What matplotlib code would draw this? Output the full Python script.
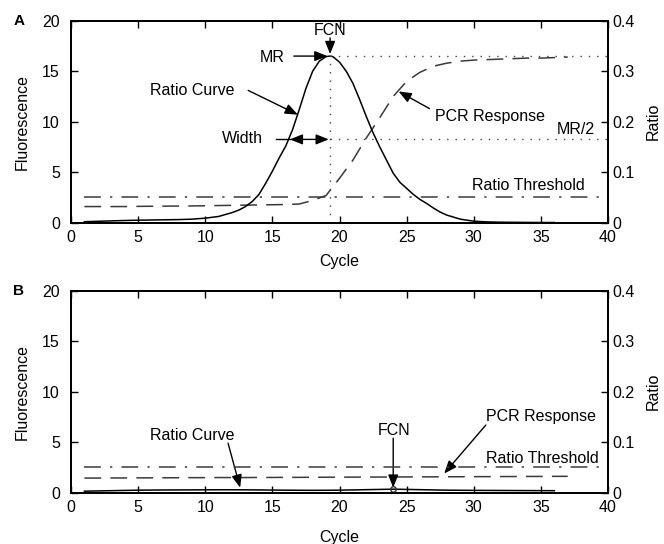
import matplotlib
matplotlib.use("Agg")
import matplotlib.pyplot as plt

plt.rcParams['font.family'] = ['Liberation Sans', 'DejaVu Sans']
plt.rcParams['font.size'] = 11.5

# ---------------- data ----------------
# Panel A: ratio curve (ratio units)
cycles_ratio_a = [1, 2, 3, 4, 5, 6, 7, 8, 9, 10, 11, 12, 12.5, 13, 13.5, 14, 14.5, 15, 15.5,
                  16, 16.5, 17, 17.5, 18, 18.5, 19, 19.3, 19.5, 20, 20.5, 21, 21.5, 22,
                  22.5, 23, 23.5, 24, 24.5, 25, 25.5, 26, 26.5, 27, 27.5, 28, 29, 30, 31,
                  32, 33, 34, 35, 36]
ratio_a = [0.002, 0.0028, 0.0036, 0.0044, 0.005, 0.0054, 0.0058, 0.0062, 0.007, 0.009,
           0.0124, 0.020, 0.025, 0.032, 0.042, 0.056, 0.078, 0.102, 0.128,
           0.152, 0.184, 0.224, 0.266, 0.300, 0.320, 0.329, 0.330, 0.329, 0.318, 0.300,
           0.276, 0.244, 0.210, 0.178, 0.150, 0.124, 0.098, 0.080, 0.068, 0.056,
           0.046, 0.038, 0.029, 0.021, 0.015, 0.007, 0.003, 0.0016, 0.0010, 0.0008,
           0.0006, 0.0004, 0.0004]
cycles_pcr = list(range(1, 38))
pcr_a = [1.6, 1.6, 1.6, 1.6, 1.62, 1.63, 1.64, 1.65, 1.66, 1.68, 1.7, 1.72, 1.74, 1.76,
         1.78, 1.8, 1.85, 2.2, 2.7, 4.4, 6.2, 8.4, 10.4, 12.5, 14.0, 14.9, 15.5, 15.8,
         16.0, 16.1, 16.15, 16.2, 16.25, 16.3, 16.3, 16.35, 16.4]
fcn_a = 19.3
mr_a = 0.33

# Panel B
cycles_ratio_b = list(range(1, 37))
ratio_b = [0.003, 0.0035, 0.004, 0.0045, 0.005, 0.0052, 0.0054, 0.0055, 0.0056, 0.0057,
           0.0058, 0.0058, 0.0057, 0.0055, 0.0052, 0.005, 0.0048, 0.0047, 0.0048, 0.005,
           0.0055, 0.006, 0.0065, 0.007, 0.0065, 0.006, 0.0055, 0.005, 0.0048, 0.0046,
           0.0045, 0.0044, 0.0043, 0.0042, 0.0041, 0.004]
pcr_b = [1.45, 1.45, 1.46, 1.46, 1.47, 1.47, 1.48, 1.48, 1.49, 1.49, 1.5, 1.5, 1.5, 1.51,
         1.51, 1.52, 1.52, 1.53, 1.53, 1.54, 1.54, 1.55, 1.55, 1.56, 1.56, 1.57, 1.57,
         1.58, 1.58, 1.59, 1.59, 1.6, 1.6, 1.61, 1.61, 1.62, 1.62]
fcn_b = 24

ratio_threshold = 0.05
threshold_start = 1

x_ticks = [0, 5, 10, 15, 20, 25, 30, 35, 40]
fl_ticks = [0, 5, 10, 15, 20]
ratio_ticks = [0, 0.1, 0.2, 0.3, 0.4]
ratio_ticklabels = ['0', '0.1', '0.2', '0.3', '0.4']

# ---------------- figure ----------------
fig = plt.figure(figsize=(6.64, 5.44), dpi=100)

DASH_COLOR = '#3a3a3a'
DASHES = (11, 6)
DASHDOT = (0, (11, 6, 1.5, 6))
ARROW = dict(arrowstyle='-|>,head_length=0.55,head_width=0.22', mutation_scale=14,
             lw=1.0, color='k', shrinkA=0, shrinkB=0)


def setup(ax, ax2, cycle_pad):
    ax.set_xlim(0, 40)
    ax.set_ylim(0, 20)
    ax2.set_ylim(0, 0.4)
    ax.set_xticks(x_ticks)
    ax.set_yticks(fl_ticks)
    ax2.set_yticks(ratio_ticks)
    ax2.set_yticklabels(ratio_ticklabels)
    ax.tick_params(axis='x', direction='in', top=True, length=5, width=1, pad=5,
                   labelsize=11.5)
    ax.tick_params(axis='y', direction='in', length=5, width=1, pad=8, labelsize=11.5)
    ax2.tick_params(axis='y', direction='in', length=5, width=1, pad=3, labelsize=11.5)
    for a in (ax, ax2):
        for s in a.spines.values():
            s.set_linewidth(1.3)
    ax.set_xlabel('Cycle', labelpad=cycle_pad)
    ax.set_ylabel('Fluorescence', labelpad=9)
    ax2.set_ylabel('Ratio', labelpad=8)


# ---- Panel A ----
axA = fig.add_axes([0.1069, 0.5906, 0.8088, 0.3713])
axA2 = axA.twinx()
setup(axA, axA2, 7)
axA2.plot(cycles_ratio_a, ratio_a, color='k', lw=1.1)
axA.plot(cycles_pcr, pcr_a, color=DASH_COLOR, lw=1.1, dashes=DASHES)
axA2.hlines(ratio_threshold, threshold_start, 40, color=DASH_COLOR, lw=1.1,
            linestyles=[DASHDOT])
axA2.vlines(fcn_a, 0, mr_a, color='#444444', lw=1.0, linestyles=[(0, (1, 5))])
axA2.hlines([mr_a, mr_a / 2], fcn_a, 40, color='#444444', lw=1.0,
            linestyles=[(0, (1, 5))])

axA.text(fcn_a, 19.0, 'FCN', ha='center', va='center')
axA.annotate('', xy=(fcn_a, 16.7), xytext=(fcn_a, 18.3), arrowprops=ARROW)
axA.text(15.0, 16.4, 'MR', ha='center', va='center')
axA.annotate('', xy=(19.1, 16.5), xytext=(16.6, 16.5), arrowprops=ARROW)
axA.text(9.0, 13.1, 'Ratio Curve', ha='center', va='center')
axA.annotate('', xy=(16.9, 10.7), xytext=(13.2, 13.1), arrowprops=ARROW)
axA.text(12.8, 8.3, 'Width', ha='center', va='center')
axA.plot([15.3, 16.3], [8.25, 8.25], color='k', lw=1.0)
axA.annotate('', xy=(19.2, 8.25), xytext=(16.3, 8.25),
             arrowprops=dict(ARROW, arrowstyle='<|-|>,head_length=0.55,head_width=0.22'))
axA.text(31.2, 10.5, 'PCR Response', ha='center', va='center')
axA.annotate('', xy=(24.4, 13.0), xytext=(26.7, 11.3), arrowprops=ARROW)
axA.text(37.6, 9.2, 'MR/2', ha='center', va='center')
axA.text(34.1, 3.7, 'Ratio Threshold', ha='center', va='center')
fig.text(0.0286, 0.962, 'A', fontweight='bold', fontsize=11, ha='center', va='center')

# ---- Panel B ----
axB = fig.add_axes([0.1069, 0.0943, 0.8088, 0.3713])
axB2 = axB.twinx()
setup(axB, axB2, 11)
axB2.plot(cycles_ratio_b, ratio_b, color='k', lw=1.1)
axB2.plot([fcn_b], [ratio_b[cycles_ratio_b.index(fcn_b)]], 'o', ms=4, mfc='none',
          mec='#333333', mew=1.0)
axB.plot(cycles_pcr, pcr_b, color=DASH_COLOR, lw=1.1, dashes=DASHES)
axB2.hlines(ratio_threshold, threshold_start, 40, color=DASH_COLOR, lw=1.1,
            linestyles=[DASHDOT])
axB.text(9.0, 5.7, 'Ratio Curve', ha='center', va='center')
axB.annotate('', xy=(12.6, 0.5), xytext=(11.7, 4.9), arrowprops=ARROW)
axB.text(24.1, 6.2, 'FCN', ha='center', va='center')
axB.annotate('', xy=(24.0, 0.5), xytext=(24.0, 5.4), arrowprops=ARROW)
axB.text(35.0, 7.5, 'PCR Response', ha='center', va='center')
axB.annotate('', xy=(27.8, 1.9), xytext=(30.9, 6.7), arrowprops=ARROW)
axB.text(35.1, 3.4, 'Ratio Threshold', ha='center', va='center')
fig.text(0.0286, 1 - 290.7 / 544, 'B', fontweight='bold', fontsize=11, ha='center',
         va='center')

fig.savefig('out.png', dpi=100)
